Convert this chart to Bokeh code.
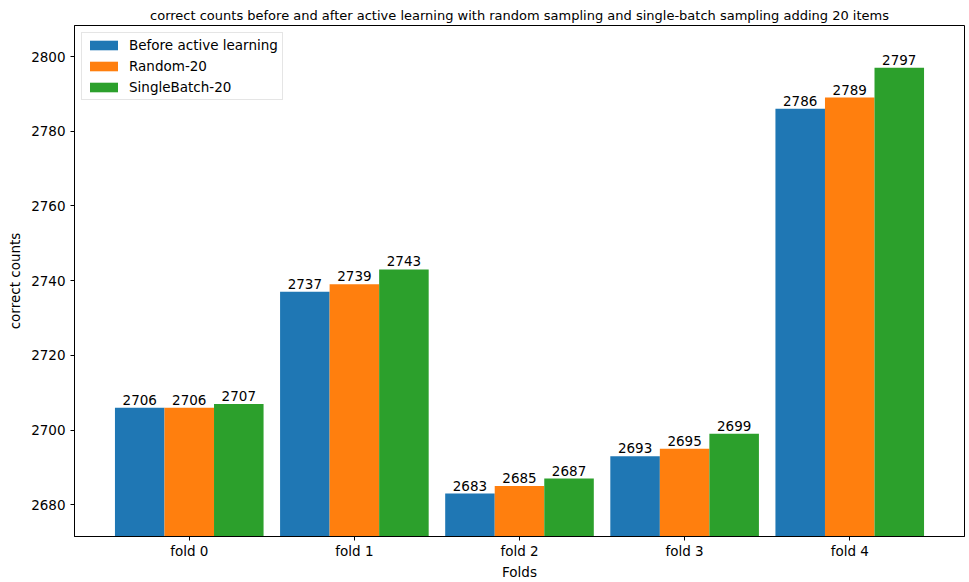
from bokeh.plotting import figure
from bokeh.models import ColumnDataSource, FixedTicker, Range1d, Legend, LegendItem
from bokeh.transform import dodge
from bokeh.embed import file_html
from bokeh.resources import INLINE

# Correct counts per fold
folds = ["fold 0", "fold 1", "fold 2", "fold 3", "fold 4"]
before_al = [2706, 2737, 2683, 2693, 2786]
random_20 = [2706, 2739, 2685, 2695, 2789]
single_batch_20 = [2707, 2743, 2687, 2699, 2797]

series_names = ["Before active learning", "Random-20", "SingleBatch-20"]
series_values = [before_al, random_20, single_batch_20]
colors = ["#1f77b4", "#ff7f0e", "#2ca02c"]
offsets = [-0.3, 0.0, 0.3]
bar_width = 0.3

FONT = "DejaVu Sans"

p = figure(
    width=969, height=582,
    x_range=Range1d(-0.695, 4.695),
    y_range=Range1d(2671.5, 2808.3),
    output_backend="svg", toolbar_location=None,
    title="correct counts before and after active learning with random sampling and single-batch sampling adding 20 items",
    x_axis_label="Folds", y_axis_label="correct counts",
    min_border_left=74, min_border_right=5, min_border_top=25, min_border_bottom=45,
)

p.title.align = "center"
p.title.text_font = FONT
p.title.text_font_size = "13px"
p.title.text_font_style = "normal"
p.title.text_color = "black"
p.title.standoff = 5

x_pos = list(range(len(folds)))
legend_items = []
for name, vals, color, off in zip(series_names, series_values, colors, offsets):
    src = ColumnDataSource(dict(x=x_pos, top=vals, label=[str(v) for v in vals]))
    r = p.vbar(x=dodge("x", off), top="top", bottom=0, width=bar_width, source=src,
               fill_color=color, line_color=None)
    # value labels just above each bar
    p.text(x=dodge("x", off), y="top", text="label", source=src,
           text_align="center", text_baseline="middle", y_offset=-8,
           text_font={"value": FONT}, text_font_size={"value": "13.5px"}, text_color="black")
    legend_items.append(LegendItem(label=name, renderers=[r]))

legend = Legend(items=legend_items, location="top_left")
legend.margin = 7
legend.padding = 4
legend.spacing = 5
legend.glyph_width = 35
legend.glyph_height = 12
legend.label_standoff = 8
legend.label_text_font = FONT
legend.label_text_font_size = "13.5px"
legend.label_text_color = "black"
legend.border_line_color = "#cccccc"
legend.border_line_width = 1
legend.background_fill_alpha = 0.8
p.add_layout(legend)

# Axes styling
p.xgrid.visible = False
p.ygrid.visible = False
p.outline_line_color = "black"
p.outline_line_width = 1

p.xaxis.ticker = FixedTicker(ticks=x_pos)
p.xaxis.major_label_overrides = {i: f for i, f in enumerate(folds)}
p.yaxis.ticker = FixedTicker(ticks=[2680, 2700, 2720, 2740, 2760, 2780, 2800])

for ax in (p.xaxis[0], p.yaxis[0]):
    ax.axis_line_color = "black"
    ax.axis_line_width = 1
    ax.major_tick_in = 0
    ax.major_tick_out = 4
    ax.major_tick_line_color = "black"
    ax.minor_tick_line_color = None
    ax.major_label_text_font = FONT
    ax.major_label_text_font_size = "13.5px"
    ax.major_label_text_color = "black"
    ax.axis_label_text_font = FONT
    ax.axis_label_text_font_size = "13.5px"
    ax.axis_label_text_font_style = "normal"
    ax.axis_label_text_color = "black"

p.xaxis.major_label_standoff = 2
p.xaxis.axis_label_standoff = 2
p.yaxis.major_label_standoff = 5
p.yaxis.axis_label_standoff = 5

open("out.html", "w").write(file_html(p, INLINE))
